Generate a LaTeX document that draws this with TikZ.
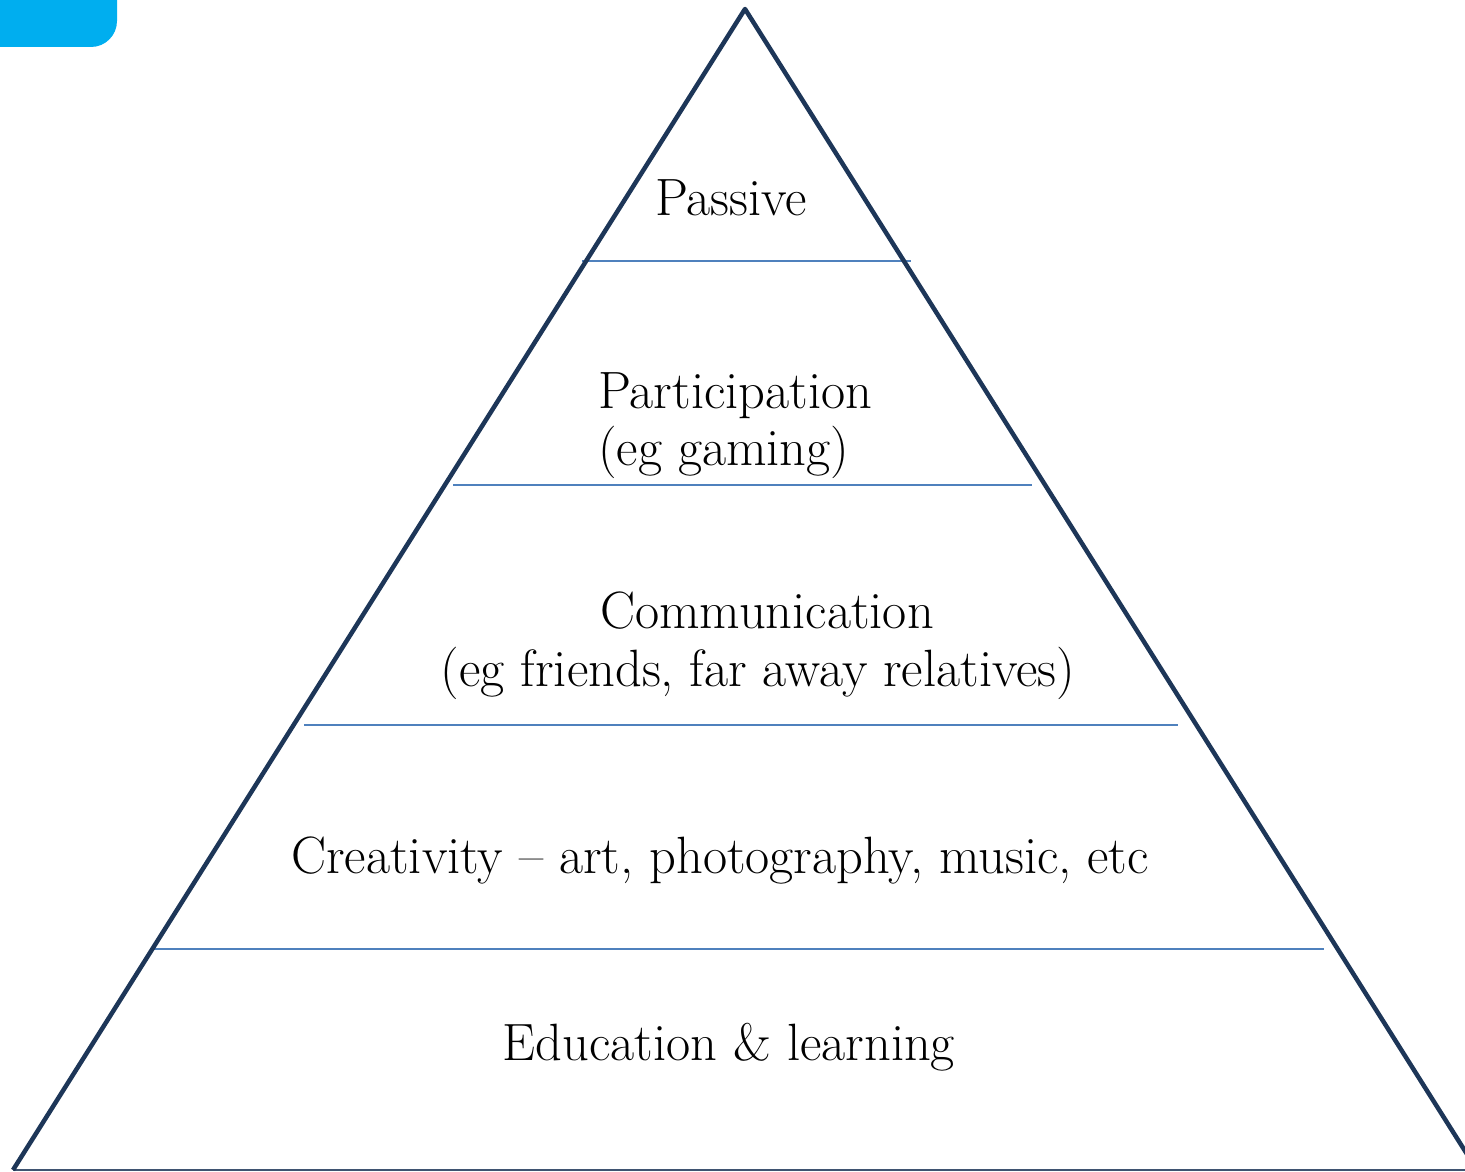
\documentclass[tikz,border=0pt]{standalone}
\definecolor{navy}{RGB}{29,54,88}
\definecolor{lineblue}{RGB}{79,129,189}
\definecolor{cyanbox}{RGB}{0,174,239}
\begin{document}
\begin{tikzpicture}[x=1pt,y=-1pt,
  lbl/.style={inner sep=0pt,font=\fontsize{52.5}{62}\selectfont},
  tier/.style={draw=lineblue,line width=1.6pt}]
\useasboundingbox (0,0) rectangle (1465,1172);
\clip (0,0) rectangle (1465,1172);
\fill[cyanbox] (-2,-2) -- (117,-2) -- (117,21) arc[start angle=0,end angle=90,radius=26] -- (-2,47) -- cycle;
% tier lines
\draw[tier] (582,261) -- (911,261);
\draw[tier] (453,485) -- (1032,485);
\draw[tier] (304,725) -- (1178,725);
\draw[tier] (154,949) -- (1324,949);
% base line
\draw[navy!85,line width=2pt] (13,1170) -- (1470,1170);
% triangle
\draw[navy,line width=4.5pt,line join=round] (13,1170) -- (745,9) -- (1477,1170);
% labels
\node[lbl,anchor=base] (passive) at (731,215) {Passive};
\node[lbl,anchor=base west] (part1) at (598,408) {Participation};
\node[lbl,anchor=base west] (part2) at (598,465) {(eg gaming)};
\node[lbl,anchor=base] (comm1) at (767,628) {Communication};
\node[lbl,anchor=base] (comm2) at (758,686) {(eg friends, far away relatives)};
\node[lbl,anchor=base] (creat) at (720,873) {Creativity -- art, photography, music, etc};
\node[lbl,anchor=base] (edu) at (729,1060) {Education \& learning};
\end{tikzpicture}
\end{document}
